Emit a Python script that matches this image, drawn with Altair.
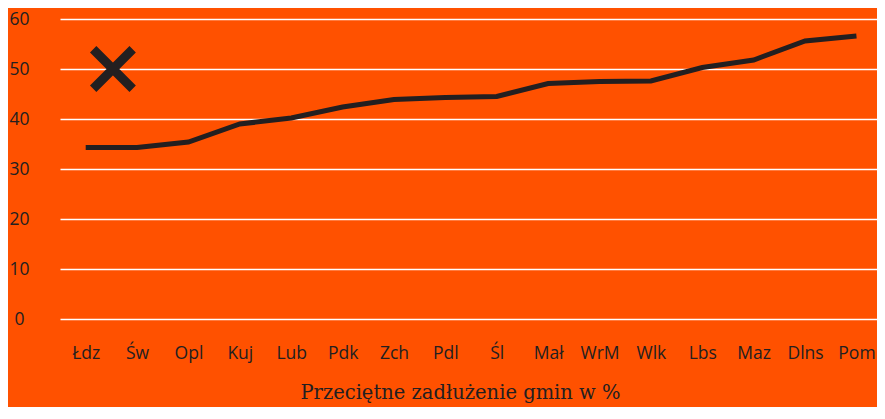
import json
import altair as alt
import pandas as pd

categories = ["Łdz", "Św", "Opl", "Kuj", "Lub", "Pdk", "Zch", "Pdl", "Śl",
              "Mał", "WrM", "Wlk", "Lbs", "Maz", "Dlns", "Pom"]
values = [34.3, 34.3, 35.4, 39.0, 40.2, 42.4, 43.9, 44.3, 44.5,
          47.1, 47.5, 47.6, 50.3, 51.8, 55.6, 56.6]
marker_pos = [0.53]
marker_val = [50]
y_ticks = [0, 10, 20, 30, 40, 50, 60]
title_text = "Przeciętne zadłużenie gmin w %"

BG = "#ff5100"
INK = "#231f20"

df = pd.DataFrame({"idx": list(range(len(categories))), "cat": categories, "val": values})
mk = pd.DataFrame({"idx": marker_pos, "val": marker_val})

label_expr = json.dumps(categories) + "[datum.value]"

# plot runs to the right edge of the page, like the reference
x_scale = alt.Scale(domain=[-0.5, 15.4], nice=False, zero=False)
y_scale = alt.Scale(domain=[0, 60], nice=False)

x_axis = alt.Axis(values=list(range(len(categories))), labelExpr=label_expr,
                  title=None, domain=False, ticks=False, tickSize=0, grid=False,
                  labelFont="Open Sans", labelFontSize=17.5, labelColor=INK,
                  labelPadding=25, labelFlush=False, labelOverlap=False)
y_axis = alt.Axis(values=y_ticks, title=None, domain=False, ticks=False, tickSize=0,
                  grid=True, gridColor="white", gridWidth=1.4,
                  labelFont="Open Sans", labelFontSize=17.5, labelColor=INK,
                  labelAlign="center", labelBaseline="middle", labelPadding=41)

line = alt.Chart(df).mark_line(color=INK, strokeWidth=5, strokeJoin="miter").encode(
    x=alt.X("idx:Q", scale=x_scale, axis=x_axis),
    y=alt.Y("val:Q", scale=y_scale, axis=y_axis),
)

marker = alt.Chart(mk).mark_point(
    shape="M-1,-1L1,1M1,-1L-1,1", size=1560, filled=False,
    stroke=INK, strokeWidth=9, strokeCap="butt", opacity=1,
).encode(
    x=alt.X("idx:Q", scale=x_scale),
    y=alt.Y("val:Q", scale=y_scale),
)

chart = alt.layer(line, marker).properties(
    width=817, height=300,
    background=BG,
    padding={"left": 52, "top": 11, "right": 0, "bottom": 88},
    autosize=alt.AutoSizeParams(type="none"),
    title=alt.TitleParams(title_text, orient="bottom", font="DejaVu Serif",
                          fontSize=19.5, fontWeight="normal", color=INK,
                          offset=22, dx=-8),
).configure_view(stroke=None, fill=BG)

chart.save("out.html", embed_options={"renderer": "svg", "actions": False})
